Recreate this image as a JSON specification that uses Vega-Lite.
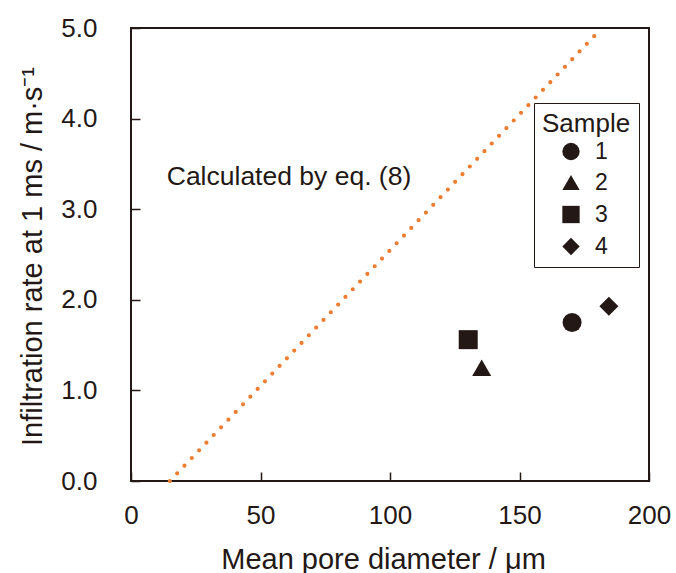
{
  "$schema": "https://vega.github.io/schema/vega-lite/v6.json",
  "autosize": {"type": "none"},
  "width": 518,
  "height": 453,
  "padding": {"left": 131, "top": 28, "right": 27, "bottom": 92},
  "background": "white",
  "config": {
    "font": "Liberation Sans",
    "view": {"stroke": "#231815", "strokeWidth": 2},
    "axis": {
      "grid": false,
      "domain": false,
      "labelFlush": false,
      "tickColor": "#231815",
      "tickWidth": 1.5,
      "tickSize": -9,
      "labelFont": "Liberation Sans",
      "labelFontSize": 26,
      "labelColor": "#231815",
      "titleFont": "Liberation Sans",
      "titleFontSize": 29,
      "titleFontWeight": "normal",
      "titleColor": "#231815"
    }
  },
  "layer": [
    {
      "data": {"values": [
        {"d": 15, "v": 0},
        {"d": 179.5, "v": 4.93}
      ]},
      "mark": {"type": "line", "color": "#ED7D31", "strokeWidth": 4.2, "strokeDash": [0, 10.6], "strokeCap": "round"},
      "encoding": {
        "x": {"field": "d", "type": "quantitative"},
        "y": {"field": "v", "type": "quantitative"}
      }
    },
    {
      "data": {"values": [
        {"d": 13.8, "v": 3.27, "label": "Calculated by eq. (8)"}
      ]},
      "mark": {"type": "text", "align": "left", "baseline": "alphabetic", "fontSize": 26.5, "font": "Liberation Sans", "color": "#231815"},
      "encoding": {
        "x": {"field": "d", "type": "quantitative"},
        "y": {"field": "v", "type": "quantitative"},
        "text": {"field": "label"}
      }
    },
    {
      "data": {"values": [
        {"Sample": "1", "diameter": 170.3, "rate": 1.75},
        {"Sample": "2", "diameter": 135.4, "rate": 1.25},
        {"Sample": "3", "diameter": 130.2, "rate": 1.56},
        {"Sample": "4", "diameter": 184.5, "rate": 1.93}
      ]},
      "mark": {"type": "point", "filled": true, "opacity": 1, "color": "#231815", "size": 361},
      "encoding": {
        "x": {
          "field": "diameter", "type": "quantitative",
          "scale": {"domain": [0, 200], "nice": false},
          "axis": {
            "values": [0, 50, 100, 150, 200],
            "labelPadding": 30,
            "title": "Mean pore diameter / μm",
            "titleX": 252, "titleY": 87, "titleBaseline": "alphabetic"
          }
        },
        "y": {
          "field": "rate", "type": "quantitative",
          "scale": {"domain": [0, 5], "nice": false},
          "axis": {
            "values": [0, 1, 2, 3, 4, 5],
            "format": ".1f",
            "labelPadding": 43,
            "title": "Infiltration rate at 1 ms / m·s⁻¹",
            "titleX": -90, "titleY": 228, "titleBaseline": "alphabetic", "titleAngle": -90, "titleAlign": "center"
          }
        },
        "shape": {
          "field": "Sample", "type": "nominal",
          "scale": {"domain": ["1", "2", "3", "4"], "range": ["circle", "triangle-up", "square", "diamond"]},
          "legend": {
            "orient": "none",
            "legendX": 403,
            "legendY": 75,
            "title": "Sample",
            "titleFont": "Liberation Sans",
            "titleFontSize": 26,
            "titleFontWeight": "normal",
            "titleColor": "#231815",
            "titleAnchor": "start",
            "titlePadding": 3,
            "labelFont": "Liberation Sans",
            "labelFontSize": 23,
            "labelColor": "#231815",
            "labelOffset": 12.5,
            "symbolSize": 300,
            "symbolFillColor": "#231815",
            "symbolStrokeColor": "#231815",
            "symbolOpacity": 1,
            "symbolOffset": 17.5,
            "rowPadding": 7,
            "padding": 8,
            "strokeColor": "#231815"
          }
        }
      }
    }
  ]
}
